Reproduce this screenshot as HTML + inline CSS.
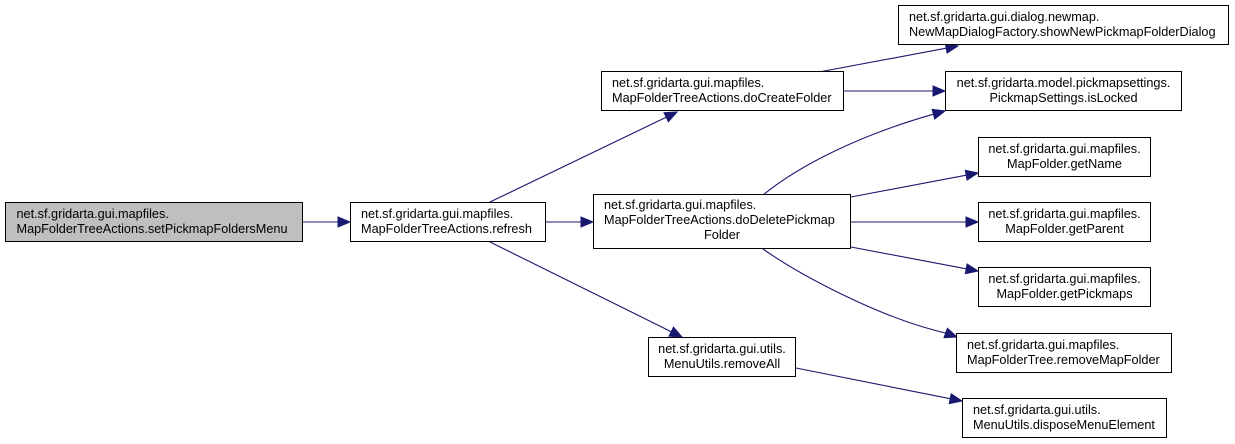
<!DOCTYPE html>
<html>
<head>
<meta charset="utf-8">
<style>
  html, body { margin: 0; padding: 0; background: #ffffff; }
  svg { display: block; }
  text { font-family: "Liberation Sans", Arial, sans-serif; font-size: 12.7px; fill: #000; }
</style>
</head>
<body>
<svg width="1235" height="444" viewBox="0 0 1235 444" xmlns="http://www.w3.org/2000/svg">
  <rect x="0" y="0" width="1235" height="444" fill="#ffffff"/>

  <!-- Edges -->
  <g stroke="#191970" stroke-width="1.1" fill="none">
    <path d="M303,222 L338,222"/>
    <path d="M490,202 L666.2,117.2"/>
    <path d="M545,222 L581,222"/>
    <path d="M490,242 L671.2,331.7"/>
    <path d="M819,72 L946.2,48.2"/>
    <path d="M843,91 L933,91"/>
    <path d="M763,195 C800,165 860,135 933.4,114.2"/>
    <path d="M851,197 L966.2,175.2"/>
    <path d="M851,222 L966,222"/>
    <path d="M851,247 L966.2,268.8"/>
    <path d="M763,249 C800,275 880,318 945.7,333"/>
    <path d="M796,368 L950.2,398.7"/>
  </g>
  <g fill="#191970" stroke="#191970" stroke-width="1">
    <polygon points="350,222 338,217 338,227"/>
    <polygon points="677,112 668.4,121.7 664.0,112.7"/>
    <polygon points="593,222 581,217 581,227"/>
    <polygon points="682,337 669.0,336.2 673.5,327.2"/>
    <polygon points="958,46 947.1,53.1 945.3,43.3"/>
    <polygon points="945,91 933,86 933,96"/>
    <polygon points="945,111 934.7,119.0 932.1,109.4"/>
    <polygon points="978,173 967.1,180.1 965.3,170.3"/>
    <polygon points="978,222 966,217 966,227"/>
    <polygon points="978,271 965.3,273.7 967.1,263.9"/>
    <polygon points="957,337 944.0,337.7 947.4,328.3"/>
    <polygon points="962,401 949.2,403.6 951.2,393.8"/>
  </g>

  <!-- Nodes -->
  <g stroke="#000" stroke-width="1">
    <rect x="5.5" y="202.5" width="297" height="39" fill="#bfbfbf"/>
    <rect x="350.5" y="202.5" width="195" height="39" fill="#fff"/>
    <rect x="601.5" y="71.5" width="242" height="39" fill="#fff"/>
    <rect x="593.5" y="194.5" width="257" height="54" fill="#fff"/>
    <rect x="648.5" y="337.5" width="147" height="39" fill="#fff"/>
    <rect x="898.5" y="5.5" width="330" height="39" fill="#fff"/>
    <rect x="945.5" y="71.5" width="236" height="39" fill="#fff"/>
    <rect x="978.5" y="137.5" width="172" height="39" fill="#fff"/>
    <rect x="978.5" y="202.5" width="172" height="39" fill="#fff"/>
    <rect x="978.5" y="267.5" width="172" height="39" fill="#fff"/>
    <rect x="956.5" y="333.5" width="215" height="39" fill="#fff"/>
    <rect x="962.5" y="398.5" width="204" height="39" fill="#fff"/>
  </g>

  <!-- Labels -->
  <text x="16.5" y="218">net.sf.gridarta.gui.mapfiles.</text>
  <text x="16.5" y="233">MapFolderTreeActions.setPickmapFoldersMenu</text>

  <text x="361" y="218">net.sf.gridarta.gui.mapfiles.</text>
  <text x="361" y="233">MapFolderTreeActions.refresh</text>

  <text x="612" y="87">net.sf.gridarta.gui.mapfiles.</text>
  <text x="612" y="102">MapFolderTreeActions.doCreateFolder</text>

  <text x="604" y="209">net.sf.gridarta.gui.mapfiles.</text>
  <text x="604" y="224">MapFolderTreeActions.doDeletePickmap</text>
  <text x="722" y="239" text-anchor="middle">Folder</text>

  <text x="722" y="353" text-anchor="middle">net.sf.gridarta.gui.utils.</text>
  <text x="722" y="368" text-anchor="middle">MenuUtils.removeAll</text>

  <text x="909" y="21">net.sf.gridarta.gui.dialog.newmap.</text>
  <text x="909" y="36">NewMapDialogFactory.showNewPickmapFolderDialog</text>

  <text x="1063.5" y="87" text-anchor="middle">net.sf.gridarta.model.pickmapsettings.</text>
  <text x="1063.5" y="102" text-anchor="middle">PickmapSettings.isLocked</text>

  <text x="1064.5" y="153" text-anchor="middle">net.sf.gridarta.gui.mapfiles.</text>
  <text x="1064.5" y="168" text-anchor="middle">MapFolder.getName</text>

  <text x="1064.5" y="218" text-anchor="middle">net.sf.gridarta.gui.mapfiles.</text>
  <text x="1064.5" y="233" text-anchor="middle">MapFolder.getParent</text>

  <text x="1064.5" y="283" text-anchor="middle">net.sf.gridarta.gui.mapfiles.</text>
  <text x="1064.5" y="298" text-anchor="middle">MapFolder.getPickmaps</text>

  <text x="967" y="349">net.sf.gridarta.gui.mapfiles.</text>
  <text x="967" y="364">MapFolderTree.removeMapFolder</text>

  <text x="973" y="414">net.sf.gridarta.gui.utils.</text>
  <text x="973" y="429">MenuUtils.disposeMenuElement</text>
</svg>
</body>
</html>
